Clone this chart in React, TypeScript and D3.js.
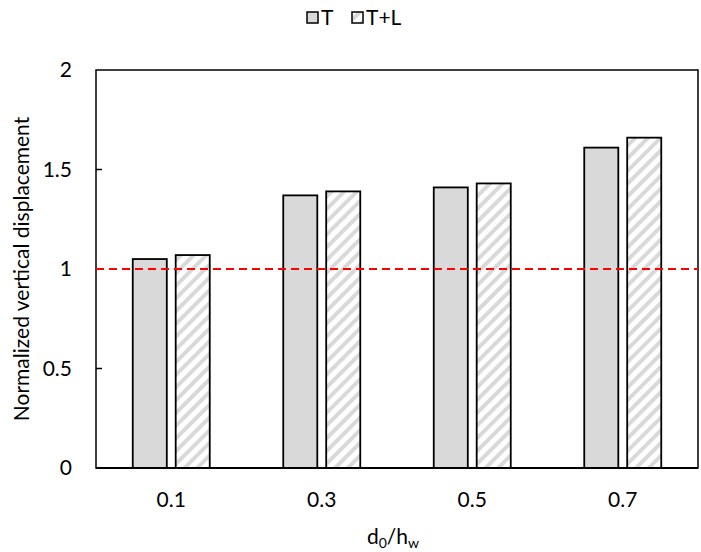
import { useEffect, useRef } from 'react';
import * as d3 from 'd3';

const categories = ['0.1', '0.3', '0.5', '0.7'];
const seriesNames = ['T', 'T+L'];
const valuesT = [1.05, 1.37, 1.41, 1.61];
const valuesTL = [1.07, 1.39, 1.43, 1.66];
const yTicks = [0, 0.5, 1, 1.5, 2];
const refValue = 1;

const font = "Lato, 'Open Sans', sans-serif";

const App = () => {
  const svgRef = useRef<SVGSVGElement>(null);
  const width = 701;
  const height = 552;
  const margin = { top: 70, right: 3, bottom: 84, left: 96 };
  const chartWidth = width - margin.left - margin.right;
  const chartHeight = height - margin.top - margin.bottom;

  useEffect(() => {
    if (!svgRef.current) return;
    const svg = d3.select(svgRef.current);
    svg.selectAll('*').remove();

    // hatch pattern
    const defs = svg.append('defs');
    const pat = defs.append('pattern')
      .attr('id', 'hatch')
      .attr('patternUnits', 'userSpaceOnUse')
      .attr('width', 9)
      .attr('height', 9)
      .attr('patternTransform', 'rotate(45)');
    pat.append('rect').attr('width', 9).attr('height', 9).attr('fill', '#fff');
    pat.append('rect').attr('width', 4).attr('height', 9).attr('fill', '#d9d9d9');

    const g = svg.append('g')
      .attr('transform', `translate(${margin.left},${margin.top})`);

    const x = d3.scaleBand().domain(categories).range([0, chartWidth]).padding(0);
    const xs = d3.scaleBand()
      .domain(seriesNames)
      .range([x.bandwidth() / 2 - 38.5, x.bandwidth() / 2 + 38.5])
      .paddingInner(0.207)
      .paddingOuter(0);
    const y = d3.scaleLinear().domain([0, 2]).range([chartHeight, 0]);

    // frame
    g.append('rect')
      .attr('x', 0).attr('y', 0)
      .attr('width', chartWidth).attr('height', chartHeight)
      .attr('fill', 'none').attr('stroke', '#000').attr('stroke-width', 1.5);

    // y ticks (inside)
    g.selectAll('.ytick')
      .data(yTicks.filter(d => d > 0 && d < 2))
      .enter().append('line')
      .attr('x1', 0).attr('x2', 6)
      .attr('y1', d => y(d)).attr('y2', d => y(d))
      .attr('stroke', '#000').attr('stroke-width', 1.5);

    g.selectAll('.ylabel')
      .data(yTicks)
      .enter().append('text')
      .attr('x', -24)
      .attr('y', d => y(d))
      .attr('dy', '0.35em')
      .attr('text-anchor', 'end')
      .style('font-family', font)
      .style('font-size', '21px')
      .text(d => String(d));

    // bars
    const data = categories.map((c, i) => ({ c, vals: [valuesT[i], valuesTL[i]] }));
    const groups = g.selectAll('.grp')
      .data(data)
      .enter().append('g')
      .attr('transform', d => `translate(${x(d.c)},0)`);

    groups.selectAll('rect')
      .data(d => d.vals.map((v, j) => ({ s: seriesNames[j], v })))
      .enter().append('rect')
      .attr('x', d => xs(d.s)!)
      .attr('y', d => y(d.v))
      .attr('width', xs.bandwidth())
      .attr('height', d => chartHeight - y(d.v))
      .attr('fill', d => d.s === 'T' ? '#d9d9d9' : 'url(#hatch)')
      .attr('stroke', '#000')
      .attr('stroke-width', 1.8);

    // reference line
    g.append('line')
      .attr('x1', 0).attr('x2', chartWidth)
      .attr('y1', y(refValue)).attr('y2', y(refValue))
      .attr('stroke', '#ff0000')
      .attr('stroke-width', 2)
      .attr('stroke-dasharray', '8,5');

    // bottom axis line again on top
    g.append('line')
      .attr('x1', 0).attr('x2', chartWidth)
      .attr('y1', chartHeight).attr('y2', chartHeight)
      .attr('stroke', '#000').attr('stroke-width', 2);

    // x labels
    g.selectAll('.xlabel')
      .data(categories)
      .enter().append('text')
      .attr('x', d => x(d)! + x.bandwidth() / 2)
      .attr('y', chartHeight + 39)
      .attr('text-anchor', 'middle')
      .style('font-family', font)
      .style('font-size', '21px')
      .text(d => d);

    // x title
    const xt = svg.append('text')
      .attr('x', margin.left + chartWidth / 2 - 4)
      .attr('y', 544)
      .attr('text-anchor', 'middle')
      .style('font-family', font)
      .style('font-size', '21px');
    xt.append('tspan').text('d');
    xt.append('tspan').attr('dy', 4).style('font-size', '14px').text('0');
    xt.append('tspan').attr('dy', -4).text('/h');
    xt.append('tspan').attr('dy', 4).style('font-size', '14px').text('w');

    // y title
    svg.append('text')
      .attr('transform', `translate(29,${margin.top + chartHeight / 2}) rotate(-90)`)
      .attr('text-anchor', 'middle')
      .style('font-family', font)
      .style('font-size', '21px')
      .text('Normalized vertical displacement');

    // legend
    const legend = svg.append('g');
    const legX = [307, 352];
    seriesNames.forEach((s, i) => {
      legend.append('rect')
        .attr('x', legX[i]).attr('y', 12)
        .attr('width', 11).attr('height', 11)
        .attr('fill', s === 'T' ? '#d9d9d9' : 'url(#hatch)')
        .attr('stroke', '#000').attr('stroke-width', 1.5);
      legend.append('text')
        .attr('x', legX[i] + 14)
        .attr('y', 18)
        .attr('dy', '0.35em')
        .style('font-family', font)
        .style('font-size', '21px')
        .text(s);
    });
  }, []);

  return (
    <svg
      ref={svgRef}
      width={width}
      height={height}
      style={{ position: 'absolute', left: 0, top: 0, background: '#fff' }}
    />
  );
};

export default App;
